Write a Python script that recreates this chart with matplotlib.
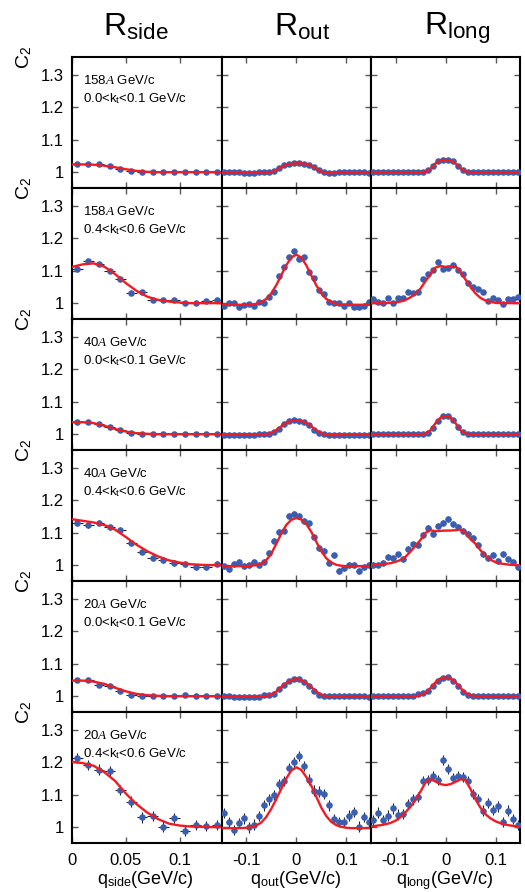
import matplotlib
matplotlib.use("Agg")
import matplotlib.pyplot as plt
import numpy as np

plt.rcParams['font.family'] = ['Liberation Sans', 'DejaVu Sans']
plt.rcParams['mathtext.fontset'] = 'custom'
plt.rcParams['mathtext.rm'] = 'Liberation Sans'
plt.rcParams['mathtext.it'] = 'Liberation Serif:italic'
plt.rcParams['mathtext.bf'] = 'Liberation Sans:bold'

# ---------------- data ----------------
col_titles = [r'R$_{\rm side}$', r'R$_{\rm out}$', r'R$_{\rm long}$']
col_xlabels = [r'q$_{\rm side}$(GeV/c)', r'q$_{\rm out}$(GeV/c)', r'q$_{\rm long}$(GeV/c)']
energies = ['158', '158', '40', '40', '20', '20']
kt_ranges = [r'0.0<k$_{\rm t}$<0.1', r'0.4<k$_{\rm t}$<0.6', r'0.0<k$_{\rm t}$<0.1',
             r'0.4<k$_{\rm t}$<0.6', r'0.0<k$_{\rm t}$<0.1', r'0.4<k$_{\rm t}$<0.6']

q_side = [0.005, 0.015, 0.025, 0.035, 0.045, 0.055, 0.065, 0.075, 0.085, 0.095,
          0.105, 0.115, 0.125, 0.135]
q_side_fit = [0.0, 0.01, 0.02, 0.03, 0.04, 0.05, 0.06, 0.07, 0.08, 0.09, 0.10,
              0.11, 0.12, 0.13, 0.14]
q_sym = [-0.145, -0.135, -0.125, -0.115, -0.105, -0.095, -0.085, -0.075, -0.065, -0.055,
         -0.045, -0.035, -0.025, -0.015, -0.005, 0.005, 0.015, 0.025, 0.035, 0.045,
         0.055, 0.065, 0.075, 0.085, 0.095, 0.105, 0.115, 0.125, 0.135, 0.145]
q_sym_fit = [-0.15, -0.14, -0.13, -0.12, -0.11, -0.10, -0.09, -0.08, -0.07, -0.06,
             -0.05, -0.04, -0.03, -0.02, -0.01, 0.0, 0.01, 0.02, 0.03, 0.04,
             0.05, 0.06, 0.07, 0.08, 0.09, 0.10, 0.11, 0.12, 0.13, 0.14, 0.15]

side_pts = [
    [1.025, 1.026, 1.024, 1.018, 1.009, 1.004, 1.000, 0.999, 0.999, 0.999, 0.999, 1.000, 1.000, 1.000],
    [1.107, 1.129, 1.122, 1.099, 1.075, 1.032, 1.034, 1.009, 1.009, 1.009, 0.999, 1.001, 1.007, 1.011],
    [1.037, 1.037, 1.031, 1.022, 1.012, 1.005, 1.002, 1.000, 1.000, 1.000, 1.000, 1.000, 1.000, 1.000],
    [1.131, 1.123, 1.130, 1.117, 1.108, 1.068, 1.042, 1.021, 1.015, 1.006, 1.003, 0.995, 0.993, 1.005],
    [1.051, 1.049, 1.035, 1.031, 1.015, 1.005, 1.001, 1.001, 1.001, 1.000, 1.004, 1.001, 1.000, 1.002],
    [1.214, 1.192, 1.178, 1.173, 1.115, 1.079, 1.030, 1.034, 1.002, 1.028, 0.989, 1.006, 1.004, 1.006],
]
side_fit = [
    [1.024, 1.024, 1.023, 1.020, 1.015, 1.009, 1.004, 1.001, 1.000, 1.000, 1.000, 1.000, 1.000, 1.000, 1.000],
    [1.112, 1.120, 1.123, 1.113, 1.090, 1.062, 1.038, 1.020, 1.010, 1.005, 1.002, 1.000, 1.000, 1.000, 1.000],
    [1.037, 1.037, 1.034, 1.026, 1.016, 1.008, 1.003, 1.001, 1.000, 1.000, 1.000, 1.000, 1.000, 1.000, 1.000],
    [1.142, 1.137, 1.132, 1.124, 1.110, 1.087, 1.063, 1.043, 1.027, 1.015, 1.008, 1.003, 1.001, 1.000, 1.000],
    [1.048, 1.048, 1.045, 1.038, 1.026, 1.015, 1.007, 1.003, 1.001, 1.000, 1.000, 1.000, 1.000, 1.000, 1.000],
    [1.202, 1.198, 1.190, 1.170, 1.143, 1.104, 1.071, 1.045, 1.025, 1.011, 1.005, 1.002, 1.001, 1.000, 1.000],
]
out_pts = [
    [0.999, 1.000, 1.000, 0.999, 0.998, 0.998, 0.998, 0.999, 1.000, 1.001, 1.004, 1.012, 1.021, 1.025, 1.027,
     1.027, 1.026, 1.022, 1.015, 1.006, 1.000, 0.998, 0.998, 0.999, 1.000, 1.000, 1.000, 1.000, 1.000, 0.998],
    [0.990, 1.000, 1.000, 0.988, 0.993, 0.997, 0.991, 1.005, 1.002, 1.020, 1.035, 1.083, 1.113, 1.143, 1.160,
     1.138, 1.144, 1.097, 1.079, 1.040, 1.028, 1.004, 0.999, 1.001, 0.992, 1.000, 0.988, 0.988, 0.990, 1.005],
    [0.998, 0.998, 0.998, 0.998, 0.998, 0.998, 0.998, 0.999, 0.999, 1.001, 1.006, 1.016, 1.030, 1.040, 1.043,
     1.042, 1.038, 1.028, 1.014, 1.004, 0.999, 0.997, 0.997, 0.998, 0.998, 0.998, 0.998, 0.998, 0.998, 0.998],
    [0.996, 0.987, 1.003, 1.010, 0.998, 1.000, 1.011, 1.000, 1.011, 1.038, 1.076, 1.102, 1.107, 1.151, 1.159,
     1.153, 1.136, 1.129, 1.087, 1.054, 1.044, 1.006, 1.030, 0.983, 0.992, 1.001, 1.001, 0.983, 0.995, 1.000],
    [0.999, 0.999, 0.998, 0.998, 0.998, 0.998, 0.998, 0.998, 1.004, 1.003, 1.008, 1.022, 1.036, 1.047, 1.052,
     1.054, 1.045, 1.031, 1.015, 1.004, 1.000, 1.000, 1.001, 1.000, 1.000, 0.999, 1.002, 1.000, 1.000, 0.998],
    [1.044, 1.016, 0.992, 1.012, 1.027, 0.999, 1.008, 1.034, 1.067, 1.086, 1.100, 1.134, 1.143, 1.183, 1.202,
     1.219, 1.190, 1.147, 1.113, 1.110, 1.102, 1.067, 1.026, 1.016, 1.015, 1.036, 1.046, 1.002, 1.032, 1.015],
]
out_fit = [
    [0.998, 0.998, 0.998, 0.998, 0.998, 0.998, 0.998, 0.998, 0.998, 0.998, 1.000, 1.006, 1.016, 1.023, 1.026,
     1.027, 1.027, 1.025, 1.020, 1.010, 1.001, 0.997, 0.997, 0.998, 0.998, 0.998, 0.998, 0.998, 0.998, 0.998, 0.998],
    [0.995, 0.995, 0.995, 0.995, 0.995, 0.995, 0.995, 0.998, 1.003, 1.013, 1.030, 1.055, 1.086, 1.117, 1.141,
     1.150, 1.141, 1.117, 1.086, 1.055, 1.030, 1.013, 1.003, 0.998, 0.995, 0.995, 0.995, 0.995, 0.995, 0.995, 0.995],
    [0.998, 0.998, 0.998, 0.998, 0.998, 0.998, 0.998, 0.998, 0.998, 1.000, 1.004, 1.012, 1.024, 1.035, 1.041,
     1.043, 1.041, 1.035, 1.024, 1.012, 1.003, 0.998, 0.997, 0.997, 0.998, 0.998, 0.998, 0.998, 0.998, 0.998, 0.998],
    [0.997, 0.997, 0.997, 0.997, 0.997, 0.997, 0.998, 1.000, 1.004, 1.015, 1.035, 1.065, 1.097, 1.124, 1.140,
     1.146, 1.141, 1.127, 1.103, 1.072, 1.043, 1.021, 1.008, 1.001, 0.998, 0.997, 0.997, 0.997, 0.997, 0.997, 0.997],
    [0.998, 0.998, 0.998, 0.998, 0.998, 0.998, 0.998, 0.998, 0.998, 1.000, 1.005, 1.014, 1.028, 1.041, 1.050,
     1.053, 1.050, 1.041, 1.028, 1.014, 1.004, 0.999, 0.998, 0.998, 0.998, 0.998, 0.998, 0.998, 0.998, 0.998, 0.998],
    [0.997, 0.997, 0.997, 0.997, 0.997, 0.998, 1.000, 1.005, 1.014, 1.031, 1.056, 1.086, 1.118, 1.150, 1.175,
     1.185, 1.177, 1.155, 1.128, 1.094, 1.060, 1.034, 1.016, 1.006, 1.001, 0.998, 0.997, 0.997, 0.997, 0.997, 0.997],
]
long_pts = [
    [1.002, 1.002, 1.002, 1.002, 1.001, 1.001, 1.001, 1.000, 1.000, 1.000, 1.001, 1.006, 1.020, 1.033, 1.038,
     1.038, 1.033, 1.020, 1.006, 1.001, 1.000, 1.000, 1.000, 1.000, 1.001, 1.001, 1.002, 1.002, 1.002, 1.001],
    [1.012, 1.004, 1.000, 1.015, 1.000, 1.017, 1.015, 1.035, 1.030, 1.035, 1.074, 1.089, 1.104, 1.128, 1.107,
     1.109, 1.119, 1.103, 1.089, 1.063, 1.050, 1.043, 1.034, 1.007, 1.017, 1.009, 0.996, 1.012, 1.013, 1.020],
    [1.001, 1.001, 1.001, 1.001, 1.001, 1.000, 1.000, 1.000, 1.000, 1.000, 1.001, 1.005, 1.020, 1.042, 1.055,
     1.055, 1.043, 1.022, 1.006, 1.001, 1.000, 1.000, 1.000, 1.000, 1.000, 1.001, 1.001, 1.001, 1.001, 1.001],
    [1.000, 1.002, 1.008, 1.024, 1.023, 1.033, 1.019, 1.049, 1.064, 1.062, 1.092, 1.116, 1.096, 1.120, 1.130,
     1.142, 1.128, 1.119, 1.106, 1.096, 1.085, 1.062, 1.034, 1.023, 1.032, 1.012, 1.034, 1.018, 1.011, 0.995],
    [1.000, 1.000, 1.000, 1.000, 1.000, 1.000, 1.000, 1.000, 1.001, 1.008, 1.010, 1.015, 1.031, 1.048, 1.057,
     1.058, 1.047, 1.030, 1.012, 1.004, 1.000, 1.000, 1.000, 1.000, 1.000, 1.000, 1.000, 1.000, 1.000, 1.000],
    [1.021, 1.045, 1.023, 1.036, 1.058, 1.039, 1.040, 1.072, 1.086, 1.093, 1.142, 1.145, 1.159, 1.145, 1.208,
     1.179, 1.151, 1.159, 1.155, 1.143, 1.103, 1.088, 1.051, 1.074, 1.054, 1.064, 1.016, 1.051, 1.025, 1.007],
]
long_fit = [
    [1.000, 1.000, 1.000, 1.000, 1.000, 1.000, 1.000, 1.000, 1.000, 1.000, 1.000, 1.001, 1.010, 1.027, 1.036,
     1.038, 1.036, 1.027, 1.012, 1.002, 1.000, 1.000, 1.000, 1.000, 1.000, 1.000, 1.000, 1.000, 1.000, 1.000, 1.000],
    [1.000, 1.000, 1.000, 1.000, 1.001, 1.002, 1.005, 1.010, 1.018, 1.030, 1.045, 1.068, 1.090, 1.110, 1.115,
     1.112, 1.113, 1.114, 1.095, 1.073, 1.050, 1.030, 1.016, 1.008, 1.004, 1.001, 1.000, 1.000, 1.000, 1.000, 1.000],
    [1.000, 1.000, 1.000, 1.000, 1.000, 1.000, 1.000, 1.000, 1.000, 1.000, 1.000, 1.002, 1.012, 1.034, 1.051,
     1.056, 1.051, 1.034, 1.012, 1.002, 1.000, 1.000, 1.000, 1.000, 1.000, 1.000, 1.000, 1.000, 1.000, 1.000, 1.000],
    [1.000, 1.001, 1.002, 1.004, 1.006, 1.010, 1.016, 1.026, 1.042, 1.060, 1.078, 1.100, 1.108, 1.105, 1.106,
     1.107, 1.107, 1.108, 1.110, 1.100, 1.080, 1.066, 1.046, 1.029, 1.017, 1.009, 1.005, 1.003, 1.001, 1.000, 1.000],
    [1.000, 1.000, 1.000, 1.000, 1.000, 1.000, 1.000, 1.000, 1.000, 1.000, 1.003, 1.010, 1.025, 1.043, 1.055,
     1.058, 1.055, 1.043, 1.025, 1.010, 1.003, 1.000, 1.000, 1.000, 1.000, 1.000, 1.000, 1.000, 1.000, 1.000, 1.000],
    [1.002, 1.004, 1.006, 1.009, 1.013, 1.020, 1.031, 1.046, 1.063, 1.085, 1.110, 1.138, 1.149, 1.141, 1.133,
     1.130, 1.133, 1.140, 1.148, 1.145, 1.118, 1.086, 1.060, 1.040, 1.027, 1.018, 1.012, 1.008, 1.005, 1.003, 1.002],
]
# statistical error (C2 units) per row
row_err = [0.002, 0.005, 0.002, 0.009, 0.002, 0.016]
bin_half = 0.005

yticks = [1.0, 1.1, 1.2, 1.3]
ytick_labels = ['1', '1.1', '1.2', '1.3']
side_ticks = [0, 0.05, 0.1]
side_tick_labels = ['0', '0.05', '0.1']
sym_ticks = [-0.1, 0, 0.1]
sym_tick_labels = ['-0.1', '0', '0.1']

# ---------------- figure ----------------
W, H = 525, 892
fig = plt.figure(figsize=(W / 100, H / 100), dpi=100)

x_edges = [72, 221.5, 371, 520]
top_px, row_h = 57, 131

pt_color = '#3a5eb0'
fit_color = '#ee1c25'

for r in range(6):
    for c in range(3):
        left = x_edges[c] / W
        width = (x_edges[c + 1] - x_edges[c]) / W
        bottom = 1 - (top_px + (r + 1) * row_h) / H
        ax = fig.add_axes([left, bottom, width, row_h / H])
        if c == 0:
            xs, ys, xf, yf = q_side, side_pts[r], q_side_fit, side_fit[r]
            ax.set_xlim(0, 0.139)
            ax.set_xticks(side_ticks)
            ax.set_xticklabels(side_tick_labels)
        else:
            pts = out_pts if c == 1 else long_pts
            fits = out_fit if c == 1 else long_fit
            xs, ys, xf, yf = q_sym, pts[r], q_sym_fit, fits[r]
            ax.set_xlim(-0.149, 0.149)
            ax.set_xticks(sym_ticks)
            ax.set_xticklabels(sym_tick_labels)
        ax.errorbar(xs, ys, yerr=row_err[r], xerr=bin_half, fmt='o', ms=3.7,
                    mfc=pt_color, mec=pt_color, ecolor='#222222', elinewidth=0.8,
                    capsize=0, zorder=3)
        ax.plot(xf, yf, color=fit_color, lw=1.7, zorder=4)
        ax.set_ylim(0.951, 1.356)
        ax.set_yticks(yticks)
        ax.set_yticklabels(ytick_labels)
        ax.tick_params(direction='in', top=True, right=True, left=True, bottom=True,
                       length=4, width=1.0, color='0.35', labelsize=12)
        ax.tick_params(axis='y', pad=6)
        ax.tick_params(axis='x', pad=7)
        if c != 0:
            ax.tick_params(axis='y', labelleft=False)
        if r != 5:
            ax.tick_params(axis='x', labelbottom=False)
        for s in ax.spines.values():
            s.set_linewidth(1.5)
        if c == 0:
            ax.text(0.073, 0.824, energies[r] + r'$A$ GeV/c', transform=ax.transAxes,
                    fontsize=9.5, ha='left', va='center')
            ax.text(0.073, 0.68, kt_ranges[r] + ' GeV/c', transform=ax.transAxes,
                    fontsize=9.5, ha='left', va='center')
            ax.text(-0.32, 1.0, r'C$_2$', transform=ax.transAxes, rotation=90,
                    fontsize=14, ha='center', va='center')

title_x = [136, 302, 457]
for c in range(3):
    fig.text(title_x[c] / W, 1 - 35 / H, col_titles[c], fontsize=23,
             ha='center', va='baseline')

xlabel_x = [145, 296, 445]
for c in range(3):
    fig.text(xlabel_x[c] / W, 1 - 884 / H, col_xlabels[c], fontsize=13,
             ha='center', va='baseline')

fig.savefig('out.png', dpi=100)
